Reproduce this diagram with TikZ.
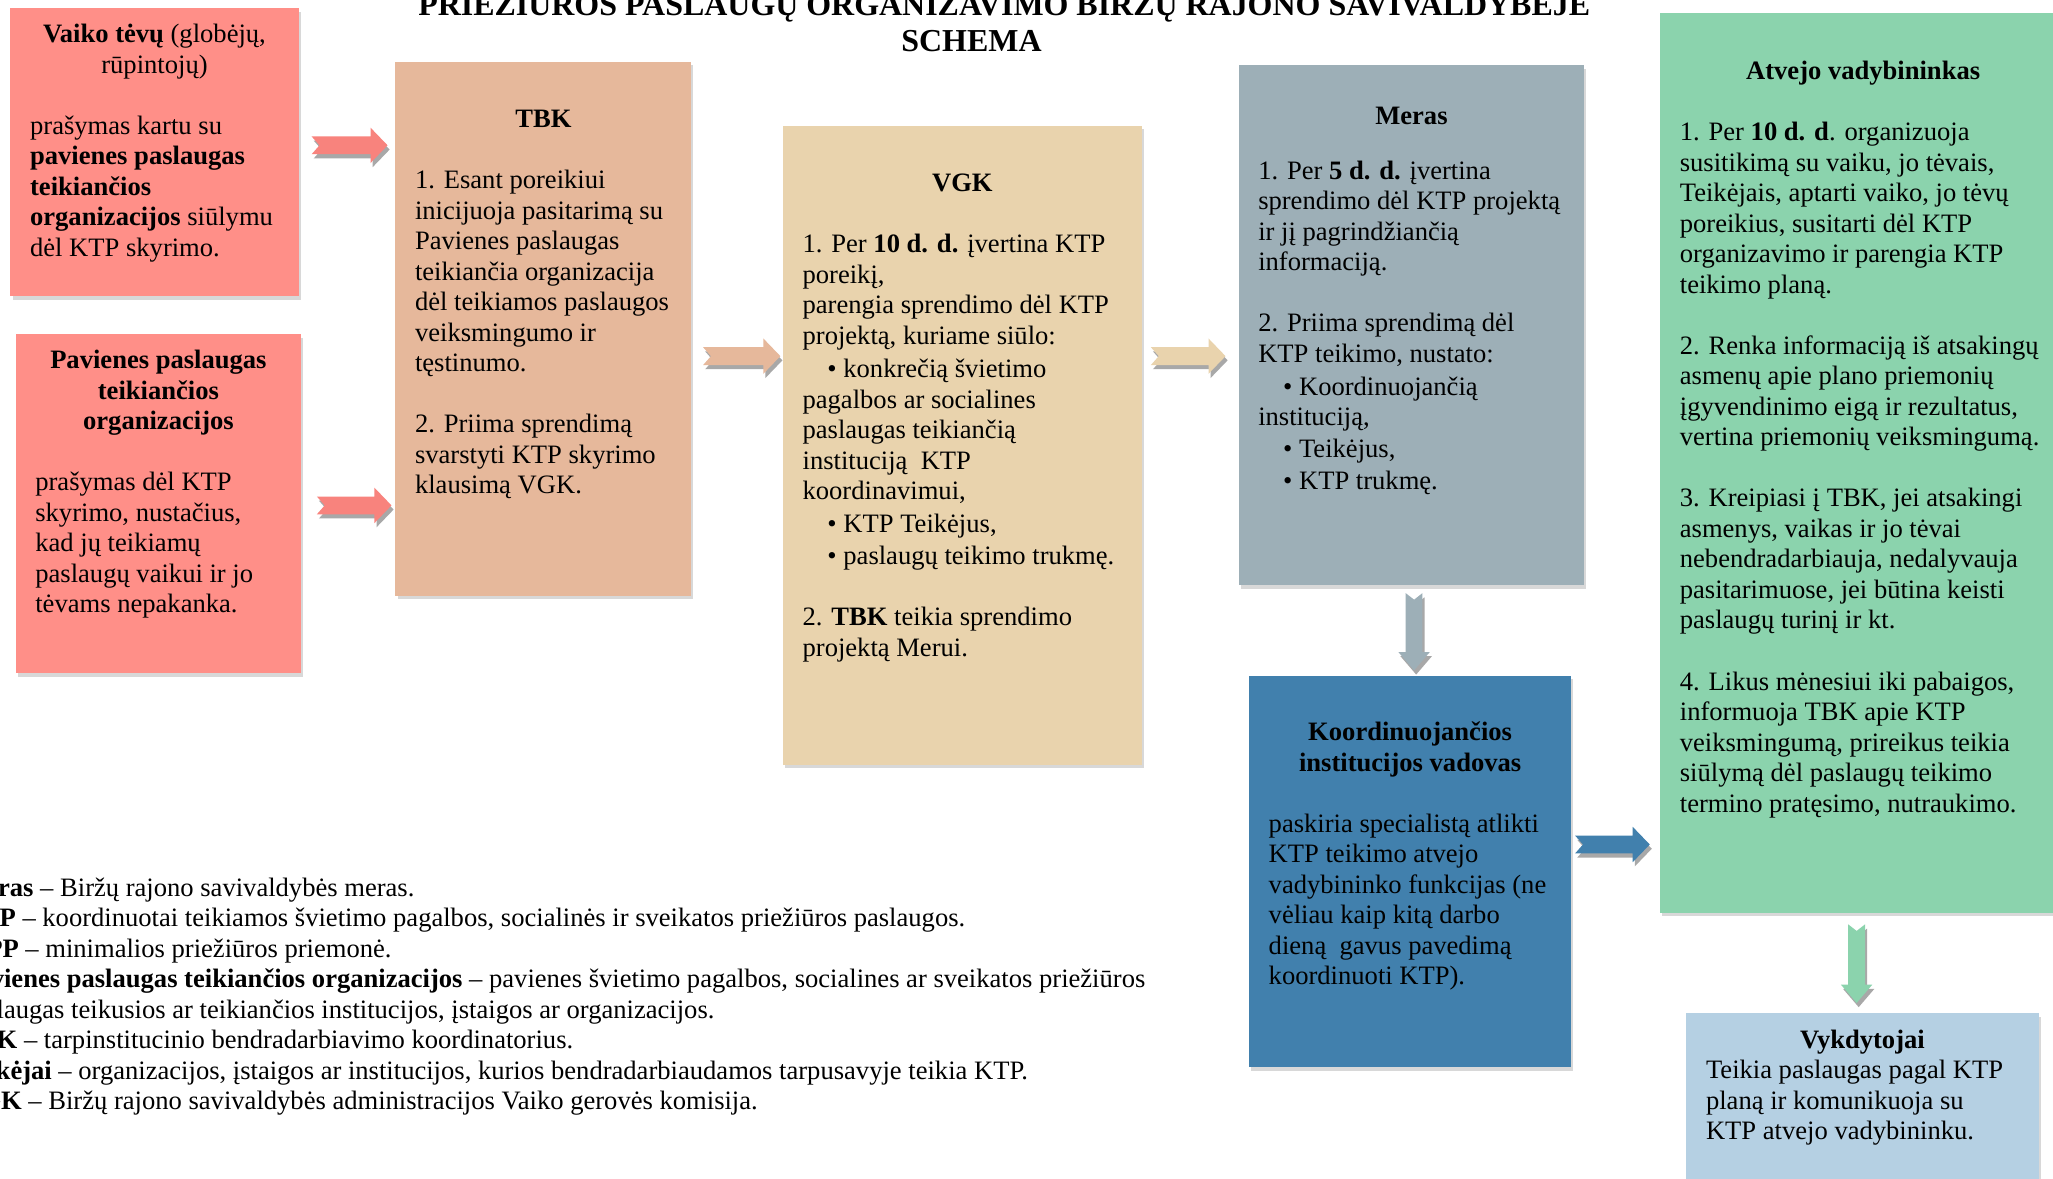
\documentclass[tikz,border=0pt]{standalone}
\usepackage{fontspec}
\setmainfont{Liberation Serif}
\usetikzlibrary{shadows,calc}
\definecolor{cVaiko}{HTML}{FF8F88}
\definecolor{cVaikoArr}{HTML}{F8837D}
\definecolor{cTBK}{HTML}{E6B89B}
\definecolor{cVGK}{HTML}{E9D3AD}
\definecolor{cMeras}{HTML}{9DAFB7}
\definecolor{cKoord}{HTML}{4180AD}
\definecolor{cAtvejo}{HTML}{8BD3AD}
\definecolor{cVykd}{HTML}{B5D0E3}
\definecolor{arrshadow}{HTML}{A8A8A8}
\newcommand\bxt[3]{\begin{minipage}[t][#2][t]{#1}\raggedright #3\end{minipage}}
\newcommand\fb[1]{\rule{0pt}{#1}}
\newcommand\bul{\hspace*{9.5pt}\textbullet\ }
\newcommand\harr[3]{%
  \fill[arrshadow] let \p1=(#1), \p2=(#2) in
    ($(\x1+0.8pt,\y1+3.4pt-1.6pt)$) -- ($(\x2-6.5pt+0.8pt,\y1+3.4pt-1.6pt)$) -- ($(\x2-6.5pt+0.8pt,\y1+6.75pt-1.6pt)$) -- ($(\x2+0.8pt,\y1-1.6pt)$) -- ($(\x2-6.5pt+0.8pt,\y1-6.75pt-1.6pt)$) -- ($(\x2-6.5pt+0.8pt,\y1-3.4pt-1.6pt)$) -- ($(\x1+0.8pt,\y1-3.4pt-1.6pt)$) -- ($(\x1+3pt+0.8pt,\y1-1.6pt)$) -- cycle;
  \fill[#3] let \p1=(#1), \p2=(#2) in
    (\x1,\y1+3.4pt) -- (\x2-6.5pt,\y1+3.4pt) -- (\x2-6.5pt,\y1+6.75pt) -- (\x2,\y1) -- (\x2-6.5pt,\y1-6.75pt) -- (\x2-6.5pt,\y1-3.4pt) -- (\x1,\y1-3.4pt) -- (\x1+3pt,\y1) -- cycle;
}
\newcommand\varr[3]{%
  \fill[arrshadow] let \p1=(#1), \p2=(#2) in
    ($(\x1-3.2pt+0.8pt,\y1-1.6pt)$) -- ($(\x1-3.2pt+0.8pt,\y2+7pt-1.6pt)$) -- ($(\x1-6pt+0.8pt,\y2+7pt-1.6pt)$) -- ($(\x1+0.8pt,\y2-1.6pt)$) -- ($(\x1+6pt+0.8pt,\y2+7pt-1.6pt)$) -- ($(\x1+3.2pt+0.8pt,\y2+7pt-1.6pt)$) -- ($(\x1+3.2pt+0.8pt,\y1-1.6pt)$) -- ($(\x1+0.8pt,\y1-2.5pt-1.6pt)$) -- cycle;
  \fill[#3] let \p1=(#1), \p2=(#2) in
    (\x1-3.2pt,\y1) -- (\x1-3.2pt,\y2+7pt) -- (\x1-6pt,\y2+7pt) -- (\x1,\y2) -- (\x1+6pt,\y2+7pt) -- (\x1+3.2pt,\y2+7pt) -- (\x1+3.2pt,\y1) -- (\x1,\y1-2.5pt) -- cycle;
}
\tikzset{
  bx/.style={anchor=north west, inner xsep=7.5pt, inner ysep=0pt, outer sep=0pt,
    drop shadow={shadow xshift=0.8pt, shadow yshift=-1.4pt, opacity=0.3},
    font=\fontsize{10.15}{11.65}\selectfont},
  ttl/.style={anchor=base, inner sep=0pt, font=\bfseries\fontsize{12.2}{14}\selectfont},
  lgd/.style={anchor=north west, inner sep=0pt, align=left, font=\fontsize{10.15}{11.65}\selectfont}
}
\begin{document}
\begin{tikzpicture}[x=0.5pt,y=-0.5pt]
\useasboundingbox (0,0) rectangle (1568,900);
\fill[white] (0,0) rectangle (1568,900);

% title
\node[ttl] (title1) at (767,11.5) {PRIEŽIŪROS PASLAUGŲ ORGANIZAVIMO BIRŽŲ RAJONO SAVIVALDYBĖJE};
\node[ttl] (title2) at (742,39.5) {SCHEMA};

% boxes
\node[bx, fill=cVaiko] (vaiko) at (8,6) {\bxt{95pt}{110pt}{%
  {\centering\fb{13.3pt}\textbf{Vaiko tėvų} (globėjų,\\ rūpintojų)\par}\vspace{11.65pt}
  prašymas kartu su\\ \textbf{pavienes paslaugas}\\ \textbf{teikiančios}\\ \textbf{organizacijos} siūlymu\\ dėl KTP skyrimo.}};

\node[bx, fill=cVaiko] (pav) at (12,255) {\bxt{94pt}{129.5pt}{%
  {\centering\bfseries\fb{13.3pt}Pavienes paslaugas\\ teikiančios\\ organizacijos\par}\vspace{11.65pt}
  prašymas dėl KTP\\ skyrimo, nustačius,\\ kad jų teikiamų\\ paslaugų vaikui ir jo\\ tėvams nepakanka.}};

\node[bx, fill=cTBK] (tbk) at (302,47) {\bxt{98pt}{204pt}{%
  {\centering\bfseries\fb{25.3pt}TBK\par}\vspace{11.65pt}
  1. Esant poreikiui\\ inicijuoja pasitarimą su\\ Pavienes paslaugas\\ teikiančia organizacija\\ dėl teikiamos paslaugos\\ veiksmingumo ir\\ tęstinumo.\\[11.65pt]
  2. Priima sprendimą\\ svarstyti KTP skyrimo\\ klausimą VGK.}};

\node[bx, fill=cVGK] (vgk) at (598,96) {\bxt{122pt}{244pt}{%
  {\centering\bfseries\fb{25.3pt}VGK\par}\vspace{11.65pt}
  1. Per \textbf{10 d. d.} įvertina KTP\\ poreikį,\\ parengia sprendimo dėl KTP\\ projektą, kuriame siūlo:\\[1pt]
  \bul konkrečią švietimo\\ pagalbos ar socialines\\ paslaugas teikiančią\\ instituciją\ \ KTP\\ koordinavimui,\\[1pt]
  \bul KTP Teikėjus,\\[0.5pt]
  \bul paslaugų teikimo trukmę.\\[11.65pt]
  2. \textbf{TBK} teikia sprendimo\\ projektą Merui.}};

\node[bx, fill=cMeras] (meras) at (946,50) {\bxt{117pt}{198.5pt}{%
  {\centering\bfseries\fb{22.5pt}Meras\par}\vspace{9.35pt}
  1. Per \textbf{5 d. d.} įvertina\\ sprendimo dėl KTP projektą\\ ir jį pagrindžiančią\\ informaciją.\\[11.65pt]
  2. Priima sprendimą dėl\\ KTP teikimo, nustato:\\[0.8pt]
  \bul Koordinuojančią\\ instituciją,\\[0.5pt]
  \bul Teikėjus,\\[0.8pt]
  \bul KTP trukmę.}};

\node[bx, fill=cKoord] (koord) at (954,516) {\bxt{108pt}{149.5pt}{%
  {\centering\bfseries\fb{24.8pt}Koordinuojančios\\ institucijos vadovas\par}\vspace{11.65pt}
  paskiria specialistą atlikti\\ KTP teikimo atvejo\\ vadybininko funkcijas (ne\\ vėliau kaip kitą darbo\\ dieną\ \ gavus pavedimą\\ koordinuoti KTP).}};

\node[bx, fill=cAtvejo] (atvejo) at (1268,10) {\bxt{140pt}{343.5pt}{%
  {\centering\bfseries\fb{25.5pt}Atvejo vadybininkas\par}\vspace{11.65pt}
  1. Per \textbf{10 d. d}. organizuoja\\ susitikimą su vaiku, jo tėvais,\\ Teikėjais, aptarti vaiko, jo tėvų\\ poreikius, susitarti dėl KTP\\ organizavimo ir parengia KTP\\ teikimo planą.\\[11.65pt]
  2. Renka informaciją iš atsakingų\\ asmenų apie plano priemonių\\ įgyvendinimo eigą ir rezultatus,\\ vertina priemonių veiksmingumą.\\[11.65pt]
  3. Kreipiasi į TBK, jei atsakingi\\ asmenys, vaikas ir jo tėvai\\ nebendradarbiauja, nedalyvauja\\ pasitarimuose, jei būtina keisti\\ paslaugų turinį ir kt.\\[11.65pt]
  4. Likus mėnesiui iki pabaigos,\\ informuoja TBK apie KTP\\ veiksmingumą, prireikus teikia\\ siūlymą dėl paslaugų teikimo\\ termino pratęsimo, nutraukimo.}};

\node[bx, fill=cVykd] (vykd) at (1288,774) {\bxt{119.5pt}{69pt}{%
  {\centering\bfseries\fb{13.3pt}Vykdytojai\par}
  Teikia paslaugas pagal KTP\\ planą ir komunikuoja su\\ KTP atvejo vadybininku.}};

% legend
\node[lgd] (legend) at (-30,668) {\rule{0pt}{8pt}%
  \textbf{Meras} – Biržų rajono savivaldybės meras.\\
  \textbf{KTP} – koordinuotai teikiamos švietimo pagalbos, socialinės ir sveikatos priežiūros paslaugos.\\
  \textbf{MPP} – minimalios priežiūros priemonė.\\
  \textbf{Pavienes paslaugas teikiančios organizacijos} – pavienes švietimo pagalbos, socialines ar sveikatos priežiūros\\
  paslaugas teikusios ar teikiančios institucijos, įstaigos ar organizacijos.\\
  \textbf{TBK} – tarpinstitucinio bendradarbiavimo koordinatorius.\\
  \textbf{Teikėjai} – organizacijos, įstaigos ar institucijos, kurios bendradarbiaudamos tarpusavyje teikia KTP.\\
  \textbf{VGK} – Biržų rajono savivaldybės administracijos Vaiko gerovės komisija.};

% arrow end points
\coordinate (a1s) at (238,111); \coordinate (a1e) at (296,111);
\coordinate (a2s) at (242,386); \coordinate (a2e) at (299,386);
\coordinate (a3s) at (537,272); \coordinate (a3e) at (596,272);
\coordinate (a4s) at (879,272); \coordinate (a4e) at (936,272);
\coordinate (a5s) at (1080,453); \coordinate (a5e) at (1080,512);
\coordinate (a6s) at (1203,645); \coordinate (a6e) at (1260,645);
\coordinate (a7s) at (1418,706); \coordinate (a7e) at (1418,766);

\harr{a1s}{a1e}{cVaikoArr}
\harr{a2s}{a2e}{cVaikoArr}
\harr{a3s}{a3e}{cTBK}
\harr{a4s}{a4e}{cVGK}
\varr{a5s}{a5e}{cMeras}
\harr{a6s}{a6e}{cKoord}
\varr{a7s}{a7e}{cAtvejo}
\end{tikzpicture}
\end{document}
